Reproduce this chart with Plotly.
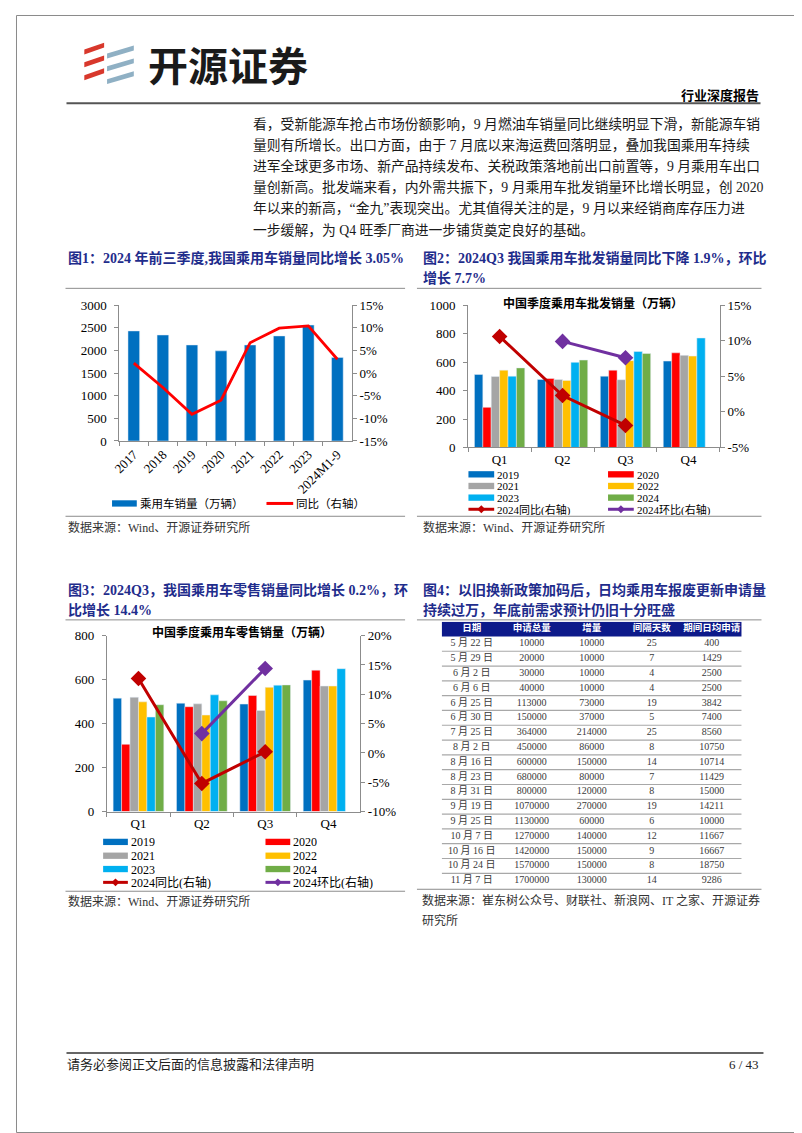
import plotly.graph_objects as go

W, H = 802, 1133
def X(p): return p / W
def Y(p): return 1 - p / H

SERIF = "Liberation Serif, Noto Sans CJK SC"
CJK = "Noto Sans CJK SC"
AX = "#8c8c8c"
CAP = "#1f2d8c"

# ---------------- Figure 1 data ----------------
years = ["2017", "2018", "2019", "2020", "2021", "2022", "2023", "2024M1-9"]
pv_sales = [2430, 2340, 2120, 1990, 2120, 2320, 2560, 1845]
pv_yoy = [2.2, -3.2, -9.1, -6.0, 6.7, 9.9, 10.4, 3.05]

# ---------------- Figure 2 data (wholesale) ----------------
quarters = ["Q1", "Q2", "Q3", "Q4"]
series_names = ["2019", "2020", "2021", "2022", "2023", "2024"]
ws_2019 = [513, 478, 501, 607]
ws_2020 = [282, 485, 543, 665]
ws_2021 = [499, 478, 476, 647]
ws_2022 = [543, 471, 610, 642]
ws_2023 = [501, 598, 674, 769]
ws_2024 = [559, 614, 660, None]
ws_yoy_2024 = [10.6, 2.3, -1.9]
ws_qoq_2024 = [9.9, 7.6]

# ---------------- Figure 3 data (retail) ----------------
rt_2019 = [516, 493, 489, 598]
rt_2020 = [306, 477, 528, 643]
rt_2021 = [520, 490, 460, 571]
rt_2022 = [499, 439, 565, 571]
rt_2023 = [430, 531, 575, 650]
rt_2024 = [486, 504, 576, None]
rt_yoy_2024 = [12.7, -5.2, 0.2]
rt_qoq_2024 = [3.3, 14.4]

# ---------------- Figure 4 table ----------------
tbl_header = ["日期", "申请总量", "增量", "间隔天数", "期间日均申请"]
tbl_date = ["5 月 22 日", "5 月 29 日", "6 月 2 日", "6 月 6 日", "6 月 25 日", "6 月 30 日",
            "7 月 25 日", "8 月 2 日", "8 月 16 日", "8 月 23 日", "8 月 31 日", "9 月 19 日",
            "9 月 25 日", "10 月 7 日", "10 月 16 日", "10 月 24 日", "11 月 7 日"]
tbl_total = [10000, 20000, 30000, 40000, 113000, 150000, 364000, 450000, 600000, 680000,
             800000, 1070000, 1130000, 1270000, 1420000, 1570000, 1700000]
tbl_incr = [10000, 10000, 10000, 10000, 73000, 37000, 214000, 86000, 150000, 80000,
            120000, 270000, 60000, 140000, 150000, 150000, 130000]
tbl_days = [25, 7, 4, 4, 19, 5, 25, 8, 14, 7, 8, 19, 6, 12, 9, 8, 14]
tbl_daily = [400, 1429, 2500, 2500, 3842, 7400, 8560, 10750, 10714, 11429, 15000, 14211,
             10000, 11667, 16667, 18750, 9286]

series_colors = ["#0070C0", "#FF0000", "#A5A5A5", "#FFC000", "#00B0F0", "#70AD47"]
YOY_C = "#C00000"
QOQ_C = "#7030A0"

fig = go.Figure()

# ---- Figure 1 traces
fig.add_bar(x=years, y=pv_sales, marker_color="#0070C0", width=0.4,
            xaxis="x", yaxis="y", hoverinfo="skip")
fig.add_scatter(x=years, y=pv_yoy, mode="lines", line=dict(color="#FF0000", width=2.8),
                xaxis="x", yaxis="y2", hoverinfo="skip")

# ---- Figure 2 traces
for nm, vals, c in zip(series_names, [ws_2019, ws_2020, ws_2021, ws_2022, ws_2023, ws_2024], series_colors):
    fig.add_bar(x=quarters, y=vals, name=nm, marker_color=c, xaxis="x2", yaxis="y3", hoverinfo="skip")
fig.add_scatter(x=quarters[:3], y=ws_yoy_2024, mode="lines+markers",
                line=dict(color=YOY_C, width=3), marker=dict(symbol="diamond", size=12, color=YOY_C),
                xaxis="x2", yaxis="y4", cliponaxis=False, hoverinfo="skip")
fig.add_scatter(x=quarters[1:3], y=ws_qoq_2024, mode="lines+markers",
                line=dict(color=QOQ_C, width=3), marker=dict(symbol="diamond", size=12, color=QOQ_C),
                xaxis="x2", yaxis="y4", cliponaxis=False, hoverinfo="skip")

# ---- Figure 3 traces
for nm, vals, c in zip(series_names, [rt_2019, rt_2020, rt_2021, rt_2022, rt_2023, rt_2024], series_colors):
    fig.add_bar(x=quarters, y=vals, name=nm, marker_color=c, xaxis="x3", yaxis="y5", hoverinfo="skip")
fig.add_scatter(x=quarters[:3], y=rt_yoy_2024, mode="lines+markers",
                line=dict(color=YOY_C, width=3), marker=dict(symbol="diamond", size=12, color=YOY_C),
                xaxis="x3", yaxis="y6", cliponaxis=False, hoverinfo="skip")
fig.add_scatter(x=quarters[1:3], y=rt_qoq_2024, mode="lines+markers",
                line=dict(color=QOQ_C, width=3), marker=dict(symbol="diamond", size=12, color=QOQ_C),
                xaxis="x3", yaxis="y6", cliponaxis=False, hoverinfo="skip")

# ---- Figure 4 table (text on its own axes)
tcols = [tbl_date, tbl_total, tbl_incr, tbl_days, tbl_daily]
for j, col in enumerate(tcols):
    fig.add_scatter(x=[j] * len(col), y=list(range(1, len(col) + 1)), text=[str(v) for v in col],
                    mode="text", textfont=dict(family=SERIF, size=10, color="#3a3a3a"),
                    xaxis="x4", yaxis="y7", hoverinfo="skip")
fig.add_scatter(x=list(range(len(tbl_header))), y=[0] * len(tbl_header), text=tbl_header, mode="text",
                textfont=dict(family=CJK, size=9.5, color="white", weight="bold"),
                xaxis="x4", yaxis="y7", hoverinfo="skip")

# ---------------- axes ----------------
TF = dict(family=SERIF, size=13, color="black")

def xcat(d0, d1, anchor, **kw):
    a = dict(domain=[X(d0), X(d1)], anchor=anchor, type="category", showline=True, linecolor=AX,
             linewidth=1, ticks="outside", tickson="boundaries", ticklen=4, tickcolor=AX,
             showgrid=False, zeroline=False, tickfont=TF, fixedrange=True)
    a.update(kw)
    return a

def yleft(b, t, anchor, lo, hi, step):
    vals = list(range(lo, hi + 1, step))
    return dict(domain=[Y(b), Y(t)], anchor=anchor, range=[lo, hi], tickvals=vals,
                ticktext=[str(v) for v in vals], showline=True, linecolor=AX, linewidth=1,
                ticks="outside", ticklen=4, tickcolor=AX, showgrid=False, zeroline=False,
                tickfont=TF, ticklabelstandoff=5, fixedrange=True)

def yright(over, anchor, lo, hi, step):
    vals = list(range(lo, hi + 1, step))
    return dict(overlaying=over, side="right", anchor=anchor, range=[lo, hi], tickvals=vals,
                ticktext=[f"{v}%" for v in vals], showline=True, linecolor=AX, linewidth=1,
                ticks="outside", ticklen=4, tickcolor=AX, showgrid=False, zeroline=False,
                tickfont=TF, ticklabelstandoff=0, fixedrange=True)

layout_axes = dict(
    xaxis=xcat(104.3, 339.3, "y", tickangle=-45),
    yaxis=yleft(431.7, 294, "x", 0, 3000, 500),
    yaxis2=yright("y", "x", -15, 15, 5),
    xaxis2=xcat(456.7, 711, "y3"),
    yaxis3=yleft(438.3, 294, "x2", 0, 1000, 200),
    yaxis4=yright("y3", "x2", -5, 15, 5),
    xaxis3=xcat(91.7, 347.7, "y5"),
    yaxis5=yleft(807.3, 629, "x3", 0, 800, 200),
    yaxis6=yright("y5", "x3", -10, 20, 5),
    xaxis4=dict(domain=[X(430), X(733)], anchor="y7", range=[-0.5, 4.5], visible=False, fixedrange=True),
    yaxis7=dict(domain=[Y(884.8), Y(614.8)], anchor="x4", range=[len(tbl_date) + 0.5, -0.5],
                visible=False, fixedrange=True),
)

# ---------------- shapes & annotations ----------------
shapes = []
anns = []

def hline(x0, x1, y, color=AX, width=1):
    shapes.append(dict(type="line", xref="paper", yref="paper", x0=X(x0), x1=X(x1), y0=Y(y), y1=Y(y),
                       line=dict(color=color, width=width)))

def rect(x0, x1, y0, y1, color):
    shapes.append(dict(type="rect", xref="paper", yref="paper", x0=X(x0), x1=X(x1), y0=Y(y1), y1=Y(y0),
                       fillcolor=color, line=dict(width=0)))

def poly(pts, color):
    d = "M " + " L ".join(f"{X(px)},{Y(py)}" for px, py in pts) + " Z"
    shapes.append(dict(type="path", xref="paper", yref="paper", path=d, fillcolor=color, line=dict(width=0)))

def txt(s, x, y, size, color="black", anchor="left", bold=False, family=SERIF, box_h=None):
    a = dict(text=s, x=X(x), y=Y(y), xref="paper", yref="paper", xanchor=anchor, yanchor="middle",
             showarrow=False, borderpad=0,
             font=dict(family=family, size=size, color=color, weight="bold" if bold else "normal"))
    if box_h:
        a["height"] = box_h
    anns.append(a)

# page border
shapes.append(dict(type="rect", xref="paper", yref="paper", x0=X(0.5), x1=X(801.5), y0=Y(1132.5), y1=Y(0.5),
                   line=dict(color="#8a8a8a", width=1)))

# logo icon
for i in range(3):
    yc = 34 + 13 * i
    poly([(69, yc + 1), (89, yc - 6), (89, yc - 1), (69, yc + 6)], "#d8382c")
for i in range(3):
    yc = 38 + 13 * i
    poly([(92, yc + 1), (119, yc - 7), (119, yc - 2), (92, yc + 6)], "#8fb0c4")
txt("开源证券", 132, 50, 40, color="#1a1a1a", bold=True, family=CJK)
txt("行业深度报告", 752, 82, 13, bold=True, anchor="right")
hline(51, 752, 89.5, color="#555555", width=2)

# body paragraph
para = [
    "看，受新能源车抢占市场份额影响，9 月燃油车销量同比继续明显下滑，新能源车销",
    "量则有所增长。出口方面，由于 7 月底以来海运费回落明显，叠加我国乘用车持续",
    "进军全球更多市场、新产品持续发布、关税政策落地前出口前置等，9 月乘用车出口",
    "量创新高。批发端来看，内外需共振下，9 月乘用车批发销量环比增长明显，创 2020",
    "年以来的新高，“金九”表现突出。尤其值得关注的是，9 月以来经销商库存压力进",
    "一步缓解，为 Q4 旺季厂商进一步铺货奠定良好的基础。",
]
for i, line in enumerate(para):
    txt(line, 238, 110 + 21.5 * i, 13.8, color="#1a1a1a")

# captions
txt("图1：2024 年前三季度,我国乘用车销量同比增长 3.05%", 52, 246, 14, color=CAP, bold=True)
txt("图2：2024Q3 我国乘用车批发销量同比下降 1.9%，环比", 410, 246, 14, color=CAP, bold=True)
txt("增长 7.7%", 410, 267, 14, color=CAP, bold=True)
txt("图3：2024Q3，我国乘用车零售销量同比增长 0.2%，环", 52, 583, 14, color=CAP, bold=True)
txt("比增长 14.4%", 52, 603, 14, color=CAP, bold=True)
txt("图4：以旧换新政策加码后，日均乘用车报废更新申请量", 410, 583, 14, color=CAP, bold=True)
txt("持续过万，年底前需求预计仍旧十分旺盛", 410, 603, 14, color=CAP, bold=True)

# block separator lines
for y in (277, 508, 613):
    hline(50, 393, y)
    hline(405, 753, y)
hline(50, 393, 888)
hline(405, 753, 886)

# chart titles
txt("中国季度乘用车批发销量（万辆）", 583, 292, 12, bold=True, anchor="center")
txt("中国季度乘用车零售销量（万辆）", 228, 626, 12, bold=True, anchor="center")

# legends
def leg_rect(x0, x1, yc, color, label, tsize=12, box_h=None):
    rect(x0, x1, yc - 3.2, yc + 3.2, color)
    txt(label, x1 + 2, yc, tsize, box_h=box_h)

def leg_line(x0, x1, yc, color, label, marker=True, tsize=12, box_h=None):
    hline(x0, x1, yc, color=color, width=3)
    if marker:
        cx, r = (x0 + x1) / 2, 4
        poly([(cx, yc - r), (cx + r, yc), (cx, yc + r), (cx - r, yc)], color)
    txt(label, x1 + 2, yc, tsize, box_h=box_h)

leg_rect(97, 122, 495, "#0070C0", "乘用车销量（万辆）", tsize=11.5)
leg_line(253, 280, 495, "#FF0000", "同比（右轴）", marker=False, tsize=11.5)

def quarter_legend(cols, rows, tsize, bh):
    (a0, a1), (b0, b1) = cols
    pairs = [(0, 1), (2, 3), (4, 5)]
    for r, (i, k) in enumerate(pairs):
        leg_rect(a0, a1, rows[r], series_colors[i], series_names[i], tsize=tsize, box_h=bh)
        leg_rect(b0, b1, rows[r], series_colors[k], series_names[k], tsize=tsize, box_h=bh)
    leg_line(a0, a1, rows[3], YOY_C, "2024同比(右轴)", tsize=tsize, box_h=bh)
    leg_line(b0, b1, rows[3], QOQ_C, "2024环比(右轴)", tsize=tsize, box_h=bh)

quarter_legend([(457, 483), (598, 624)], [465.5, 477.3, 489.1, 500.9], 11, 11)
quarter_legend([(88, 113), (252, 277)], [838, 852, 865.5, 879], 12, 13)

# sources
txt("数据来源：Wind、开源证券研究所", 52, 519, 12, color="#333333")
txt("数据来源：Wind、开源证券研究所", 410, 519, 12, color="#333333")
txt("数据来源：Wind、开源证券研究所", 52, 898, 12, color="#333333")
txt("数据来源：崔东树公众号、财联社、新浪网、IT 之家、开源证券", 409, 897, 12, color="#333333")
txt("研究所", 409, 918, 12, color="#333333")

# table decorations (in table axes units)
shapes.append(dict(type="rect", xref="x4", yref="y7", x0=-0.5, x1=len(tbl_header) - 0.5, y0=-0.5, y1=0.5,
                   fillcolor="#0d1a8a", line=dict(width=0), layer="below"))
for k in range(1, len(tbl_date)):
    shapes.append(dict(type="line", xref="x4", yref="y7", x0=-0.5, x1=len(tbl_header) - 0.5,
                       y0=k + 0.5, y1=k + 0.5, line=dict(color="#a8a8a8", width=1.2)))

# footer
hline(51, 755, 1052, color="#333333", width=1.5)
txt("请务必参阅正文后面的信息披露和法律声明", 51, 1064, 13, color="#222222")
txt("6 / 43", 752, 1064, 13, color="#222222", anchor="right")

fig.update_layout(
    width=W, height=H, autosize=False,
    margin=dict(l=0, r=0, t=0, b=0),
    paper_bgcolor="white", plot_bgcolor="rgba(0,0,0,0)",
    showlegend=False, barmode="group", bargap=0.2, bargroupgap=0,
    shapes=shapes, annotations=anns,
    font=dict(family=SERIF),
    **layout_axes,
)

fig.write_html("out.html", config={"displayModeBar": False, "staticPlot": True})
